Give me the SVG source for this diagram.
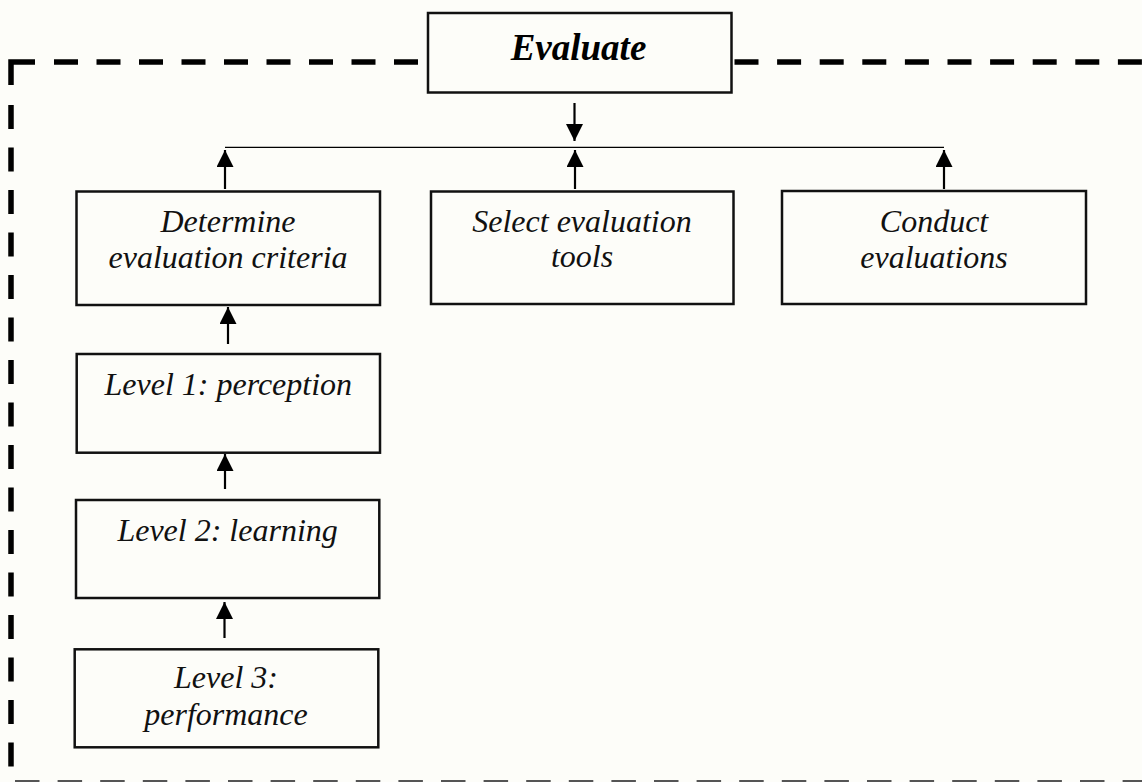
<svg xmlns="http://www.w3.org/2000/svg" width="1142" height="782" viewBox="0 0 1142 782">
  <defs>
    <marker id="arr" markerUnits="userSpaceOnUse" markerWidth="17" markerHeight="17" viewBox="0 0 17 17" refX="17" refY="8.5" orient="auto">
      <path d="M0,0 L17,8.5 L0,17 Z" fill="#000"/>
    </marker>
    <style>
      .box { fill: none; stroke: #111; stroke-width: 2.5; }
      .lbl { font-family: "Liberation Serif", "Times New Roman", serif; font-style: italic; font-size: 32px; fill: #111; text-anchor: middle; }
      .title { font-family: "Liberation Serif", "Times New Roman", serif; font-style: italic; font-weight: bold; font-size: 37px; fill: #000; text-anchor: middle; }
      .conn { fill: none; stroke: #000; stroke-width: 2.2; }
      .bus { fill: none; stroke: #000; stroke-width: 1.3; }
      .dash { fill: none; stroke: #000; stroke-width: 5.5; }
    </style>
  </defs>
  <rect x="0" y="0" width="1142" height="782" fill="#fdfdf9"/>

  <g id="frame">
    <path class="dash" d="M11 85 V62 H35"/>
    <line class="dash" x1="54" y1="62" x2="428" y2="62" stroke-dasharray="24 18.5"/>
    <line class="dash" x1="734.5" y1="62" x2="1142" y2="62" stroke-dasharray="24 18.6"/>
    <line class="dash" x1="11" y1="105" x2="11" y2="767" stroke-dasharray="24 18.5"/>
    <line x1="15" y1="781.5" x2="1142" y2="781.5" stroke="#555" stroke-width="3" stroke-dasharray="24.5 18.1"/>
  </g>

  <g id="connectors">
    <line class="bus" x1="225" y1="147.3" x2="944" y2="147.3"/>
    <line class="conn" x1="574.5" y1="103" x2="574.5" y2="141" marker-end="url(#arr)"/>
    <line class="conn" x1="225" y1="189" x2="225" y2="150" marker-end="url(#arr)"/>
    <line class="conn" x1="575" y1="189" x2="575" y2="150" marker-end="url(#arr)"/>
    <line class="conn" x1="944" y1="189" x2="944" y2="150" marker-end="url(#arr)"/>
    <line class="conn" x1="228" y1="344" x2="228" y2="307" marker-end="url(#arr)"/>
    <line class="conn" x1="225" y1="489" x2="225" y2="454" marker-end="url(#arr)"/>
    <line class="conn" x1="224.5" y1="638" x2="224.5" y2="602" marker-end="url(#arr)"/>
  </g>

  <g id="evaluate">
    <rect class="box" x="428" y="13" width="303.5" height="79.5" fill="#fdfdf9"/>
    <text class="title" x="578.5" y="60">Evaluate</text>
  </g>

  <g id="determine">
    <rect class="box" x="76.5" y="191.5" width="303.5" height="113.5"/>
    <text class="lbl" x="228" y="231.7">Determine</text>
    <text class="lbl" x="228" y="268">evaluation criteria</text>
  </g>

  <g id="select">
    <rect class="box" x="431" y="191.5" width="302.5" height="112.5"/>
    <text class="lbl" x="582" y="231.7">Select evaluation</text>
    <text class="lbl" x="582" y="266.7">tools</text>
  </g>

  <g id="conduct">
    <rect class="box" x="782" y="191" width="304" height="113"/>
    <text class="lbl" x="934" y="231.7">Conduct</text>
    <text class="lbl" x="934" y="268">evaluations</text>
  </g>

  <g id="level1">
    <rect class="box" x="76.7" y="354" width="303.3" height="98.7"/>
    <text class="lbl" x="228.3" y="395">Level 1: perception</text>
  </g>

  <g id="level2">
    <rect class="box" x="76" y="500" width="303.3" height="98"/>
    <text class="lbl" x="227.6" y="540.7">Level 2: learning</text>
  </g>

  <g id="level3">
    <rect class="box" x="74.7" y="649.3" width="303.6" height="98"/>
    <text class="lbl" x="226" y="688.3">Level 3:</text>
    <text class="lbl" x="226" y="725">performance</text>
  </g>
</svg>
